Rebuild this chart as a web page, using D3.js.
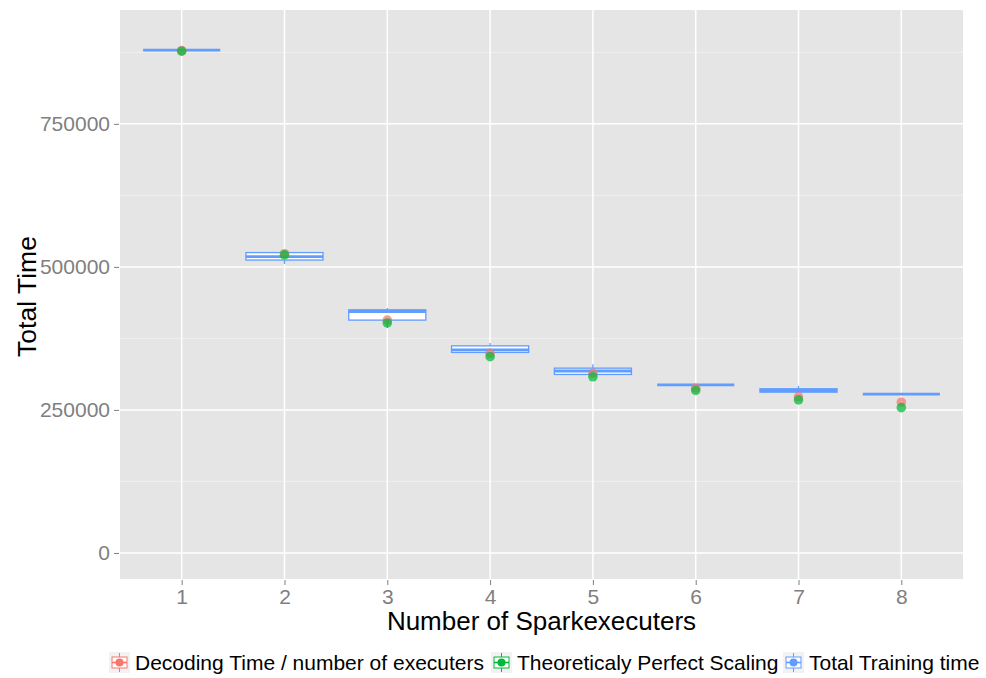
<!DOCTYPE html>
<html><head><meta charset="utf-8">
<script src="https://cdn.jsdelivr.net/npm/d3@7"></script>
<style>body{margin:0;background:#fff}svg{display:block}text{font-family:"Liberation Sans",Arial,Helvetica,sans-serif}</style>
</head><body><svg id="c" width="986" height="678"></svg>
<script>
const executers = [1,2,3,4,5,6,7,8];
const boxMin = [879000,505000,393000,350000,310000,293700,280500,277500];
const boxQ1  = [879000,512000,407000,350500,312000,293700,281000,277500];
const boxMed = [879000,518000,422000,355000,318000,293700,284000,277500];
const boxQ3  = [879000,525000,425000,362000,323000,293700,287000,277500];
const boxMax = [879000,528000,428000,367000,330000,293700,292000,277500];
const decodingTime   = [878000,523000,407000,349000,314000,288000,273000,263500];
const perfectScaling = [877000,521000,402000,343000,308000,284000,267500,254000];
const yTicks = [0,250000,500000,750000];
const yMinor = [125000,375000,625000,875000];
const seriesNames = ["Decoding Time / number of executers","Theoreticaly Perfect Scaling","Total Training time"];
const seriesColors = ["#F8766D","#00BA38","#619CFF"];

const svg = d3.select("#c");
const L=120, R=963, T=10, B=579;
const x = d3.scaleLinear().domain([0.4,8.6]).range([L,R]);
const y = d3.scaleLinear().domain([-45500,949000]).range([B,T]);

svg.append("rect").attr("x",L).attr("y",T).attr("width",R-L).attr("height",B-T).attr("fill","#E5E5E5");
svg.selectAll(".ymin").data(yMinor).enter().append("line")
  .attr("x1",L).attr("x2",R).attr("y1",d=>y(d)).attr("y2",d=>y(d))
  .attr("stroke","#F2F2F2").attr("stroke-width",0.8);
svg.selectAll(".ymaj").data(yTicks).enter().append("line")
  .attr("x1",L).attr("x2",R).attr("y1",d=>y(d)).attr("y2",d=>y(d))
  .attr("stroke","#FFFFFF").attr("stroke-width",1.5);
svg.selectAll(".xmaj").data(executers).enter().append("line")
  .attr("y1",T).attr("y2",B).attr("x1",d=>x(d)).attr("x2",d=>x(d))
  .attr("stroke","#FFFFFF").attr("stroke-width",1.5);

const yAxis = d3.axisLeft(y).tickValues(yTicks).tickSize(5).tickPadding(4).tickFormat(d3.format("d"));
const gy = svg.append("g").attr("transform",`translate(${L-1},0)`).call(yAxis);
const xAxis = d3.axisBottom(x).tickValues(executers).tickSize(5).tickPadding(4).tickFormat(d3.format("d"));
const gx = svg.append("g").attr("transform",`translate(0,${B+1})`).call(xAxis);
[gx,gy].forEach(g=>{
  g.select(".domain").remove();
  g.selectAll(".tick line").attr("stroke","#7F7F7F").attr("stroke-width",1);
  g.selectAll(".tick text").attr("fill","#7F7F7F").attr("font-size",21);
});

const bw = 0.75/2;
const boxes = svg.append("g");
executers.forEach((e,i)=>{
  const g = boxes.append("g");
  const c = seriesColors[2];
  g.append("line").attr("x1",x(e)).attr("x2",x(e)).attr("y1",y(boxMax[i])).attr("y2",y(boxQ3[i])).attr("stroke",c).attr("stroke-width",1.3);
  g.append("line").attr("x1",x(e)).attr("x2",x(e)).attr("y1",y(boxQ1[i])).attr("y2",y(boxMin[i])).attr("stroke",c).attr("stroke-width",1.3);
  g.append("rect").attr("x",x(e-bw)).attr("width",x(e+bw)-x(e-bw))
    .attr("y",y(boxQ3[i])).attr("height",Math.max(0,y(boxQ1[i])-y(boxQ3[i])))
    .attr("fill","#FFFFFF").attr("stroke",c).attr("stroke-width",1.3);
  g.append("line").attr("x1",x(e-bw)).attr("x2",x(e+bw)).attr("y1",y(boxMed[i])).attr("y2",y(boxMed[i])).attr("stroke",c).attr("stroke-width",2.8);
});

[[decodingTime,0],[perfectScaling,1]].forEach(([arr,k])=>{
  svg.append("g").selectAll("circle").data(arr).enter().append("circle")
    .attr("cx",(d,i)=>x(executers[i])).attr("cy",d=>y(d)).attr("r",4.8)
    .attr("fill",seriesColors[k]).attr("fill-opacity",0.72);
});

svg.append("text").attr("x",(L+R)/2).attr("y",630).attr("text-anchor","middle").attr("font-size",26).attr("fill","#000").text("Number of Sparkexecuters");
svg.append("text").attr("transform",`translate(36,${(T+B)/2+2}) rotate(-90)`).attr("text-anchor","middle").attr("font-size",26.5).attr("fill","#000").text("Total Time");

const legX = [109,491,783];
const leg = svg.append("g");
seriesNames.forEach((n,k)=>{
  const g = leg.append("g").attr("transform",`translate(${legX[k]},652)`);
  g.append("rect").attr("width",21).attr("height",21).attr("fill","#F2F2F2");
  const c = seriesColors[k];
  g.append("line").attr("x1",10.5).attr("x2",10.5).attr("y1",1).attr("y2",20).attr("stroke",c).attr("stroke-width",1);
  g.append("rect").attr("x",3).attr("y",5).attr("width",15).attr("height",11).attr("fill","#fff").attr("stroke",c).attr("stroke-width",1);
  g.append("line").attr("x1",3).attr("x2",18).attr("y1",10.5).attr("y2",10.5).attr("stroke",c).attr("stroke-width",1.6);
  g.append("circle").attr("cx",10.5).attr("cy",10.5).attr("r",4).attr("fill",c);
  g.append("text").attr("x",26).attr("y",18).attr("font-size",21).attr("fill","#000").text(n);
});
</script></body></html>
